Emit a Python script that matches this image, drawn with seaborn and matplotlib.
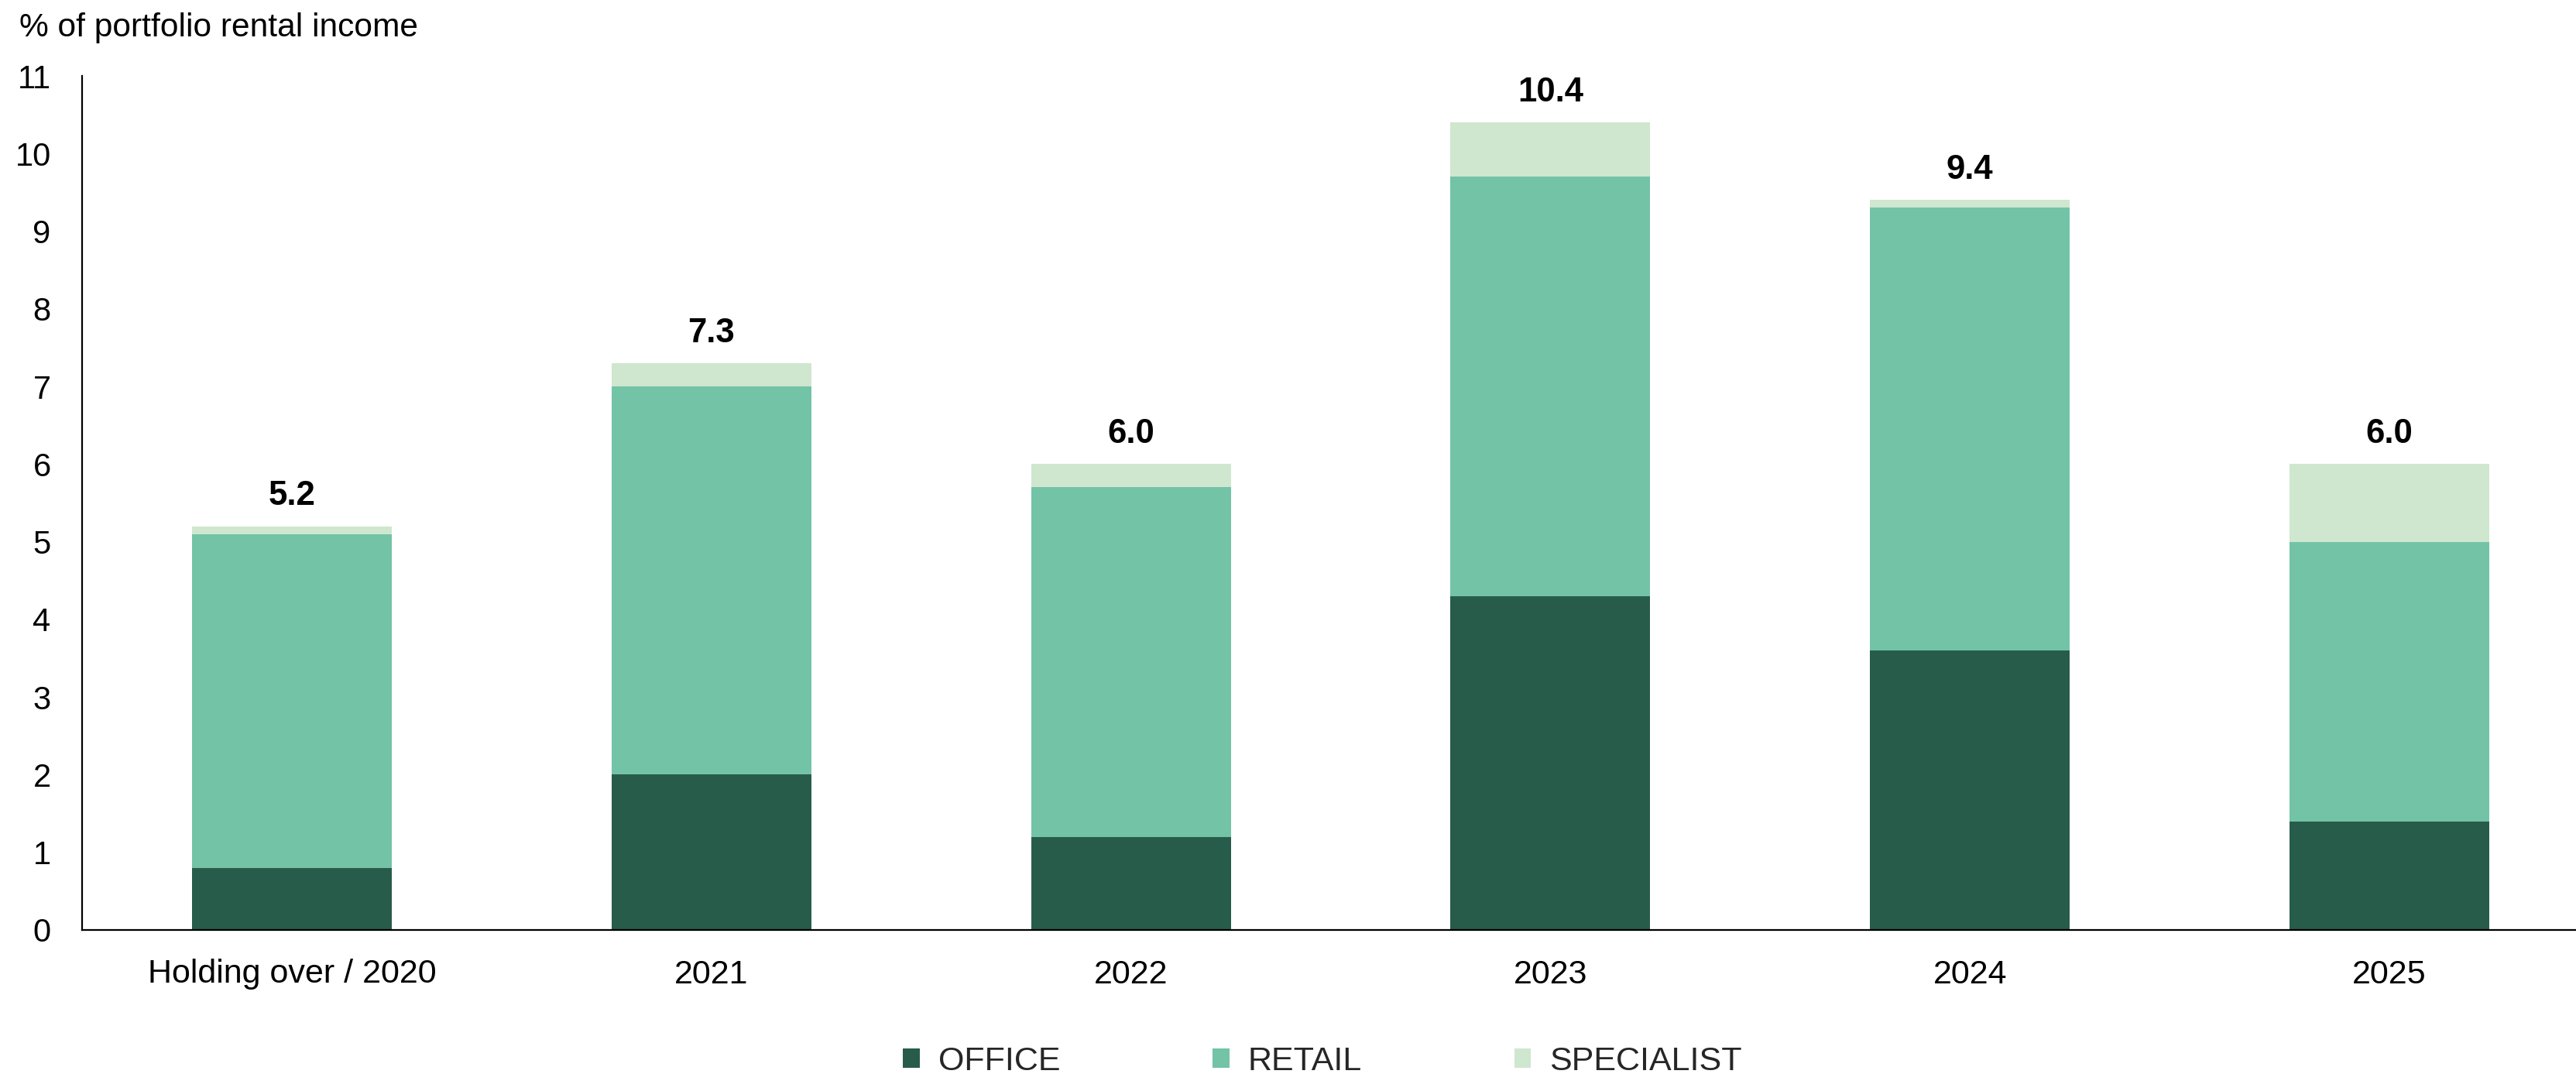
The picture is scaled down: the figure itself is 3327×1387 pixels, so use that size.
import numpy as np
import pandas as pd
import matplotlib
matplotlib.use("Agg")
import matplotlib.pyplot as plt
import seaborn as sns

# Lease expiry profile by year, split by sector (% of portfolio rental income)
categories = ["Holding over / 2020", "2021", "2022", "2023", "2024", "2025"]
office = [0.8, 2.0, 1.2, 4.3, 3.6, 1.4]
retail = [4.3, 5.0, 4.5, 5.4, 5.7, 3.6]
specialist = [0.1, 0.3, 0.3, 0.7, 0.1, 1.0]
totals = [5.2, 7.3, 6.0, 10.4, 9.4, 6.0]

series_names = ["OFFICE", "RETAIL", "SPECIALIST"]
colors = {"OFFICE": "#285C4A", "RETAIL": "#73C3A7", "SPECIALIST": "#CFE6CF"}

sns.set_theme(style="white")
plt.rcParams["font.family"] = ["Liberation Sans", "DejaVu Sans"]

df = pd.DataFrame({
    "category": categories,
    "office": office,
    "retail": retail,
    "specialist": specialist,
})
df["office_retail"] = df["office"] + df["retail"]
df["total"] = df["office_retail"] + df["specialist"]

W, H, DPI = 3327, 1387, 100
fig = plt.figure(figsize=(W / DPI, H / DPI), dpi=DPI)
ax = fig.add_axes([106 / W, 1 - 1201 / H, (3357 - 106) / W, (1201 - 98) / H])

bar_w = 0.476
# Stacked bars: draw cumulative heights from the top layer down
sns.barplot(data=df, x="category", y="total", color=colors["SPECIALIST"],
            width=bar_w, saturation=1, ax=ax, linewidth=0)
sns.barplot(data=df, x="category", y="office_retail", color=colors["RETAIL"],
            width=bar_w, saturation=1, ax=ax, linewidth=0)
sns.barplot(data=df, x="category", y="office", color=colors["OFFICE"],
            width=bar_w, saturation=1, ax=ax, linewidth=0)

ax.set_xlim(-0.5, len(categories) - 0.5)
ax.set_ylim(0, 11)
ax.set_yticks(range(0, 12))
ax.set_xlabel("")
ax.set_ylabel("")

for side in ["top", "right"]:
    ax.spines[side].set_visible(False)
for side in ["left", "bottom"]:
    ax.spines[side].set_color("black")
    ax.spines[side].set_linewidth(1.6)

ax.tick_params(axis="y", length=0, pad=29, labelsize=30, labelcolor="black")
ax.tick_params(axis="x", length=0, pad=27, labelsize=31, labelcolor="black")

# Total labels above each stack
for i, t in enumerate(df["total"]):
    ax.annotate(f"{t:.1f}", xy=(i, t), xytext=(0, 28), textcoords="offset points",
                ha="center", va="center", fontsize=31.5, fontweight="bold",
                color="black")

fig.text(25 / W, 1 - 36 / H, "% of portfolio rental income", fontsize=30.6,
         ha="left", va="center", color="black")

handles = [matplotlib.patches.Patch(facecolor=colors[n], edgecolor="none")
           for n in series_names]
fig.legend(handles, series_names, loc="center", ncol=3, frameon=False,
           bbox_to_anchor=(1708 / W, 1 - 1371 / H), fontsize=31,
           handlelength=0.5, handleheight=0.53, handletextpad=0.55,
           columnspacing=4.58)

fig.savefig("out.png", dpi=DPI, facecolor="white")
